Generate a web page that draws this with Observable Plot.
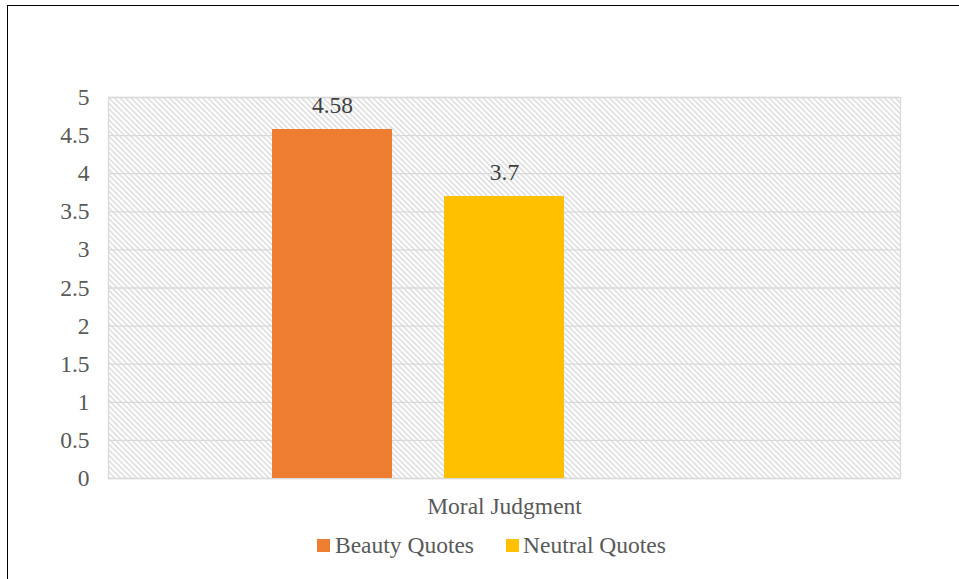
<!DOCTYPE html>
<html>
<head>
<meta charset="utf-8">
<script src="https://cdn.jsdelivr.net/npm/d3@7"></script>
<script src="https://cdn.jsdelivr.net/npm/@observablehq/plot@0.6"></script>
<style>
  html, body { margin: 0; padding: 0; background: #fff; }
  #wrap { position: relative; width: 959px; height: 579px; overflow: hidden; background: #fff; }
  #border { position: absolute; left: 7px; top: 5px; width: 1100px; height: 1100px; border: 1.5px solid #000; box-sizing: border-box; pointer-events: none; }
  #chart { position: absolute; left: 0; top: 0; }
  #chart svg, #chart svg text { font-family: "Liberation Serif", "Times New Roman", serif !important; }
  .legend { position: absolute; top: 529px; left: 0; font-family: "Liberation Serif", "Times New Roman", serif; font-size: 23.5px; color: #595959; white-space: nowrap; }
  .sw { position: absolute; width: 13px; height: 13px; top: 10px; }
  .lab { position: absolute; top: 0; line-height: 32px; }
</style>
</head>
<body>
<div id="wrap">
  <div id="border"></div>
  <div id="chart"></div>
  <div class="legend" id="legend"></div>
</div>
<script>
const category = "Moral Judgment";
const series = ["Beauty Quotes", "Neutral Quotes"];
const values = [4.58, 3.7];
const valueLabels = ["4.58", "3.7"];
const colors = ["#ED7D31", "#FFC000"];
const yTicks = [0, 0.5, 1, 1.5, 2, 2.5, 3, 3.5, 4, 4.5, 5];
const yTickLabels = ["0", "0.5", "1", "1.5", "2", "2.5", "3", "3.5", "4", "4.5", "5"];

const data = series.map((s, i) => ({series: s, value: values[i], label: valueLabels[i]}));
const serif = "Liberation Serif, Times New Roman, serif";

const chart = Plot.plot({
  width: 959,
  height: 525,
  marginLeft: 108,
  marginRight: 59,
  marginTop: 97,
  marginBottom: 47,
  style: {fontFamily: serif, fontSize: "23.5px", color: "#595959", background: "transparent", overflow: "visible"},
  x: {type: "band", domain: series, range: [271, 565], paddingInner: 0.3, paddingOuter: 0, axis: null, label: null},
  y: {domain: [0, 5], axis: null, label: null},
  color: {domain: series, range: colors},
  marks: [
    Plot.frame({fill: "url(#hatch)", stroke: "#d9d9d9", strokeWidth: 1.3}),
    Plot.gridY(yTicks, {stroke: "#d9d9d9", strokeOpacity: 1, strokeWidth: 1.3}),
    Plot.axisY(yTicks, {tickSize: 0, tickPadding: 19, label: null, tickFormat: d => yTickLabels[yTicks.indexOf(d)], fill: "#595959", fontSize: 23.5, fontFamily: serif}),
    Plot.barY(data, {x: "series", y: "value", fill: "series"}),
    Plot.text(data, {x: "series", y: "value", text: "label", dy: -17, lineAnchor: "bottom", fill: "#404040", fontSize: 23.5, fontFamily: serif}),
    Plot.text([category], {frameAnchor: "bottom", text: d => d, dy: 35, lineAnchor: "bottom", fill: "#595959", fontSize: 23.5, fontFamily: serif})
  ]
});

const svg = d3.select(chart);
const defs = svg.insert("defs", ":first-child");
const pat = defs.append("pattern")
  .attr("id", "hatch")
  .attr("patternUnits", "userSpaceOnUse")
  .attr("width", 5.5)
  .attr("height", 5.5);
pat.append("rect").attr("width", 5.5).attr("height", 5.5).attr("fill", "#fff");
pat.append("path")
  .attr("d", "M-1,-1 L6.5,6.5 M-1,4.5 L1,6.5 M4.5,-1 L6.5,1")
  .attr("stroke", "#d6d6d6")
  .attr("stroke-width", 1.3);

document.getElementById("chart").appendChild(chart);

const legend = document.getElementById("legend");
const legendX = [317, 506];
const labelX = [335, 523];
series.forEach((s, i) => {
  const sw = document.createElement("div");
  sw.className = "sw";
  sw.style.left = legendX[i] + "px";
  sw.style.background = colors[i];
  legend.appendChild(sw);
  const lab = document.createElement("div");
  lab.className = "lab";
  lab.style.left = labelX[i] + "px";
  lab.textContent = s;
  legend.appendChild(lab);
});
</script>
</body>
</html>
